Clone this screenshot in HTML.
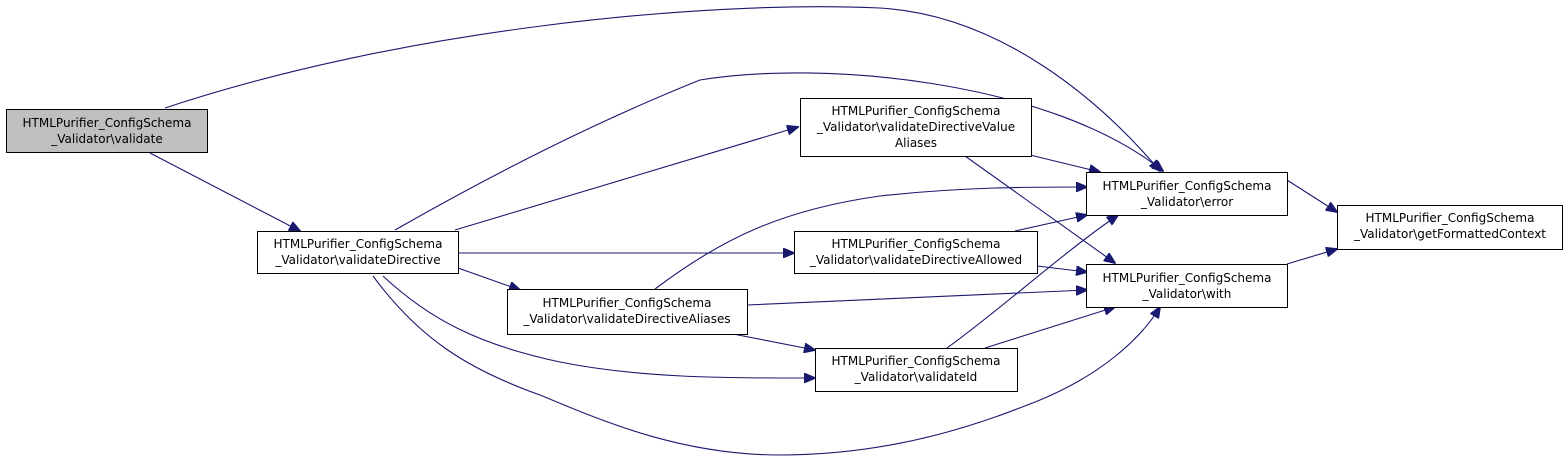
<!DOCTYPE html>
<html><head><meta charset="utf-8"><style>
html,body{margin:0;padding:0;background:#fff;}
svg{display:block;}
text{font-family:"DejaVu Sans","Liberation Sans",sans-serif;font-size:12px;fill:#000;}
</style></head><body>
<svg width="1568" height="462" viewBox="0 0 1568 462" xmlns="http://www.w3.org/2000/svg">
<defs>
<marker id="a" markerWidth="12" markerHeight="10" refX="11" refY="5" orient="auto" markerUnits="userSpaceOnUse">
<path d="M0,0 L12,5 L0,10 Z" fill="#191970" stroke="#191970"/>
</marker>
</defs>
<g fill="none" stroke="#191970" stroke-width="1.1" marker-end="url(#a)">
<path d="M150,153 L300,231"/>
<path d="M165,108 C400,30 700,0 880,8 C1000,15 1100,100 1160,171"/>
<path d="M395,230 C500,170 600,120 700,80 C820,60 1050,80 1163,171"/>
<path d="M455,230 L798,127"/>
<path d="M458,253 L794,253"/>
<path d="M458,268 L520,290"/>
<path d="M383,276 C430,320 480,345 560,362 C640,378 720,378 815,378"/>
<path d="M373,276 C420,340 470,370 540,395 C600,420 680,455 780,455 C900,455 990,420 1040,400 C1100,375 1140,340 1160,307"/>
<path d="M1030,155 L1100,172"/>
<path d="M965,156 L1115,263"/>
<path d="M655,289 C720,240 780,210 880,196 C960,187 1030,187 1087,187"/>
<path d="M747,305 L1087,290"/>
<path d="M733,334 L815,350"/>
<path d="M1015,231 L1087,215"/>
<path d="M1037,266 L1087,272"/>
<path d="M947,348 C1000,310 1060,255 1118,215"/>
<path d="M985,348 L1115,307"/>
<path d="M1287,180 L1337,212"/>
<path d="M1287,264 L1337,249"/>
</g>
<g stroke="#000" stroke-width="1">
<rect x="6.5" y="109.5" width="201" height="43" fill="#bfbfbf"/>
<rect x="257.5" y="231.5" width="201" height="42" fill="#fff"/>
<rect x="800.5" y="98.5" width="231" height="58" fill="#fff"/>
<rect x="794.5" y="231.5" width="243" height="42" fill="#fff"/>
<rect x="507.5" y="289.5" width="240" height="45" fill="#fff"/>
<rect x="815.5" y="348.5" width="202" height="43" fill="#fff"/>
<rect x="1086.5" y="172.5" width="201" height="43" fill="#fff"/>
<rect x="1086.5" y="264.5" width="201" height="43" fill="#fff"/>
<rect x="1337.5" y="205.5" width="225" height="44" fill="#fff"/>
</g>
<g text-anchor="middle">
<text x="107" y="127">HTMLPurifier_ConfigSchema</text><text x="107" y="143">_Validator\validate</text>
<text x="358" y="248">HTMLPurifier_ConfigSchema</text><text x="358" y="264">_Validator\validateDirective</text>
<text x="916" y="115">HTMLPurifier_ConfigSchema</text><text x="916" y="131">_Validator\validateDirectiveValue</text><text x="916" y="147">Aliases</text>
<text x="916" y="248">HTMLPurifier_ConfigSchema</text><text x="916" y="264">_Validator\validateDirectiveAllowed</text>
<text x="627" y="307">HTMLPurifier_ConfigSchema</text><text x="627" y="323">_Validator\validateDirectiveAliases</text>
<text x="916" y="365">HTMLPurifier_ConfigSchema</text><text x="916" y="381">_Validator\validateId</text>
<text x="1187" y="190">HTMLPurifier_ConfigSchema</text><text x="1187" y="206">_Validator\error</text>
<text x="1187" y="282">HTMLPurifier_ConfigSchema</text><text x="1187" y="298">_Validator\with</text>
<text x="1450" y="222">HTMLPurifier_ConfigSchema</text><text x="1450" y="238">_Validator\getFormattedContext</text>
</g>
</svg>
</body></html>
